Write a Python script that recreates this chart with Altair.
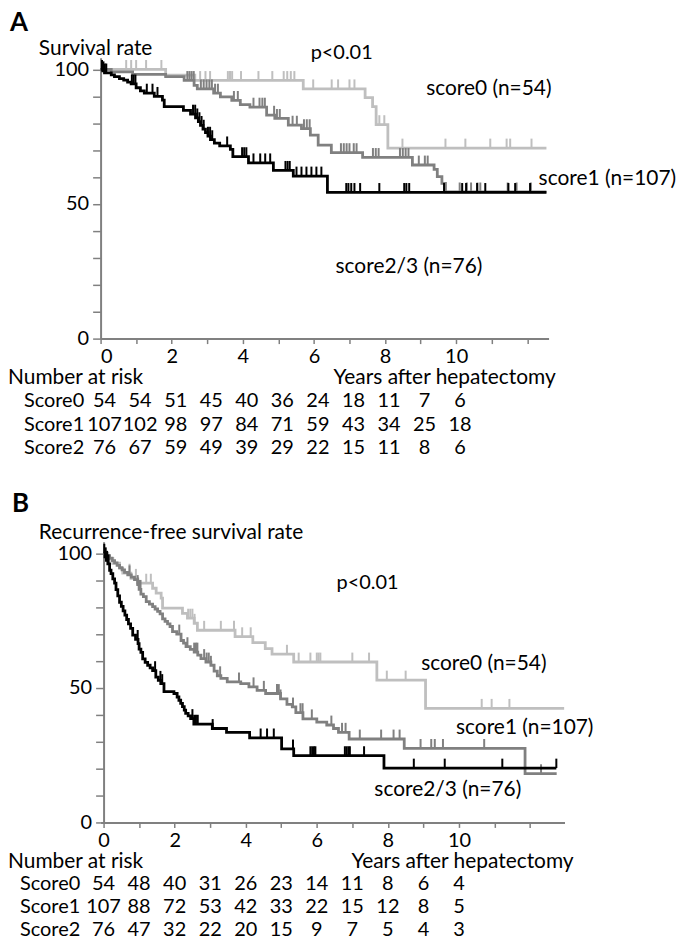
import altair as alt
import pandas as pd

FONT = "Lato"
FS = 20      # numbers
FT = 21      # words
C0, C1, C2 = "#bfbfbf", "#808080", "#000000"
AXC = "#808080"

# ---------------- Panel A: overall survival ----------------
A_s0_t = [0, 1.83, 2.65, 5.70, 7.44, 7.65, 7.75, 8.08]
A_s0_s = [100, 97.9, 95.9, 92.8, 89.5, 86.2, 79.5, 70.8]
A_s0_end = 12.54
A_s0_cens = [0.72, 0.86, 1.0, 1.28, 1.71, 2.8, 2.95, 3.08, 3.58, 3.64, 3.7, 3.95, 4.44,
             4.83, 5.15, 5.25, 5.35, 5.45, 5.98, 6.5, 6.68, 7.0, 7.14, 7.84, 7.98, 8.49,
             9.70, 10.26, 10.96, 11.42, 11.52, 12.12]

A_s1_t = [0, 0.3, 0.9, 1.83, 2.35, 2.63, 2.72, 3.18, 3.37, 3.69, 3.93, 4.2, 4.67, 4.9,
          5.28, 5.65, 5.9, 6.12, 6.49, 7.37, 8.77, 9.38, 9.47, 9.6, 9.7]
A_s1_s = [100, 99.1, 98.2, 97.3, 95.9, 94.1, 92.8, 91.2, 89.8, 88.5, 86.9, 86.0, 83.0, 81.8,
          79.3, 78.0, 75.6, 71.9, 69.1, 67.3, 64.5, 62.9, 60.2, 57.7, 54.5]
A_s1_end = 12.54
A_s1_cens = [2.44, 2.5, 2.56, 2.62, 2.82, 2.9, 2.98, 3.06, 3.13, 3.22, 3.3, 3.75, 3.86, 4.3,
             4.47, 4.55, 4.62, 4.88, 4.96, 5.04, 5.4, 5.52, 5.72, 5.8, 5.88, 6.76, 6.84,
             6.92, 7.0, 7.12, 7.2, 7.66, 7.74, 7.82, 8.42, 8.5, 8.58, 8.66, 8.95, 9.12, 9.2,
             10.1, 10.3, 10.42, 10.6, 10.68, 11.45, 11.7, 12.1]

A_s2_t = [0, 0.06, 0.11, 0.3, 0.39, 0.53, 0.65, 0.76, 0.86, 1.0, 1.12, 1.23, 1.51, 1.74,
          1.79, 2.33, 2.53, 2.67, 2.75, 2.81, 2.88, 2.95, 3.02, 3.09, 3.20, 3.35, 3.65,
          3.72, 4.16, 4.86, 5.42, 6.38]
A_s2_s = [100, 99.5, 98.7, 98.0, 97.3, 96.6, 96.0, 95.3, 94.6, 93.2, 92.0, 91.2, 90.0, 88.6,
          86.2, 84.8, 83.4, 82.0, 80.6, 79.2, 77.8, 76.5, 75.2, 73.9, 72.6, 71.6, 70.3,
          67.6, 65.3, 62.5, 60.4, 54.3]
A_s2_end = 12.54
A_s2_cens = [0.04, 0.08, 0.12, 0.16, 0.88, 0.93, 0.98, 1.30, 1.46, 1.60, 2.6, 2.66, 2.72,
             2.78, 2.84, 2.9, 3.02, 3.08, 3.14, 3.56, 3.98, 4.04, 4.1, 4.3, 4.49, 4.63,
             4.77, 5.2, 5.26, 5.32, 5.51, 5.65, 5.79, 5.93, 6.07, 6.21, 6.91, 6.97, 7.05,
             7.14, 7.30, 7.84, 8.54, 8.6, 8.68, 9.66, 10.17, 10.28, 10.59, 10.82, 11.47,
             11.66, 12.08]

A_years = list(range(0, 11))
A_risk0 = [54, 54, 51, 45, 40, 36, 24, 18, 11, 7, 6]
A_risk1 = [107, 102, 98, 97, 84, 71, 59, 43, 34, 25, 18]
A_risk2 = [76, 67, 59, 49, 39, 29, 22, 15, 11, 8, 6]

# ---------------- Panel B: recurrence-free survival ----------------
B_s0_t = [0, 0.12, 0.26, 0.45, 0.54, 0.77, 0.96, 1.38, 1.48, 1.62, 1.66, 2.22, 2.36, 2.55,
          2.64, 3.7, 4.2, 4.55, 4.74, 5.35, 7.69, 9.06]
B_s0_s = [100, 98.1, 96.3, 94.4, 92.6, 90.7, 88.9, 87.0, 85.2, 83.3, 79.6, 77.7, 75.9, 74.0,
          71.4, 69.0, 66.8, 64.6, 62.5, 59.6, 52.9, 42.4]
B_s0_end = 12.96
B_s0_cens = [0.73, 0.91, 1.2, 1.33, 2.38, 2.44, 2.5, 2.56, 2.83, 3.30, 3.67, 3.9, 4.14,
             5.16, 5.49, 5.82, 6.0, 6.05, 6.1, 7.0, 7.47, 7.97, 8.5, 10.64, 10.92, 11.42]

B_s1_t = [0, 0.08, 0.17, 0.24, 0.31, 0.38, 0.45, 0.52, 0.59, 0.68, 0.78, 0.87, 0.96, 1.0,
          1.05, 1.12, 1.2, 1.29, 1.38, 1.45, 1.52, 1.59, 1.66, 1.73, 1.80, 1.87, 1.94, 2.06,
          2.18, 2.25, 2.32, 2.44, 2.55, 2.65, 2.74, 2.88, 3.02, 3.11, 3.2, 3.3, 3.48, 3.86,
          4.09, 4.32, 4.56, 4.98, 5.16, 5.31, 5.41, 5.61, 6.0, 6.28, 6.47, 6.61, 6.91, 8.46,
          11.86]
B_s1_s = [100, 99.1, 98.2, 97.3, 96.4, 95.5, 94.7, 93.8, 92.9, 92.0, 91.1, 90.2, 88.4, 86.6,
          84.8, 83.9, 82.0, 81.1, 80.2, 79.3, 78.4, 77.5, 75.6, 74.7, 73.8, 72.8, 70.9, 70.0,
          67.6, 66.6, 65.3, 64.3, 63.3, 62.2, 60.9, 59.6, 58.4, 56.2, 54.5, 53.5, 52.2, 51.6,
          50.4, 49.1, 47.9, 45.9, 43.9, 42.9, 40.8, 38.5, 37.3, 36.2, 34.9, 33.5, 31.0, 27.5,
          18.1]
B_s1_end = 12.75
B_s1_cens = [0.73, 0.96, 1.0, 1.04, 2.13, 2.36, 2.55, 2.6, 2.64, 2.83, 2.9, 2.96, 3.02,
             3.28, 3.81, 4.22, 4.51, 4.88, 4.93, 4.98, 5.33, 5.54, 5.6, 5.86, 6.41, 6.71,
             6.81, 7.21, 7.81, 8.16, 8.33, 8.92, 9.22, 9.32, 9.55, 10.71, 12.31]

B_s2_t = [0, 0.04, 0.08, 0.12, 0.17, 0.21, 0.26, 0.31, 0.35, 0.40, 0.45, 0.50, 0.55, 0.60,
          0.65, 0.70, 0.76, 0.82, 0.90, 0.97, 1.00, 1.05, 1.10, 1.17, 1.24, 1.31, 1.38,
          1.47, 1.54, 1.61, 1.70, 1.98, 2.07, 2.12, 2.17, 2.22, 2.27, 2.31, 2.38, 2.45,
          2.54, 3.06, 3.46, 4.11, 5.01, 5.35, 7.89]
B_s2_s = [100, 98.7, 97.4, 96.1, 93.7, 92.4, 90.5, 88.9, 86.5, 84.2, 81.8, 80.3, 78.6, 77.0,
          75.4, 73.8, 72.1, 69.6, 68.0, 66.4, 64.4, 63.2, 60.8, 59.5, 58.4, 57.4, 56.4,
          54.0, 52.8, 51.6, 48.6, 47.9, 46.6, 45.4, 44.2, 43.0, 41.7, 40.5, 39.6, 38.6,
          36.5, 34.9, 33.5, 31.4, 27.3, 24.8, 20.2]
B_s2_end = 12.74
B_s2_cens = [0.02, 0.06, 0.1, 0.14, 0.96, 1.45, 1.6, 1.65, 2.5, 2.55, 2.6, 2.65, 3.07,
             4.42, 4.60, 4.79, 5.33, 5.82, 5.87, 5.92, 5.96, 6.79, 6.84, 6.89, 6.93, 7.33,
             8.73, 9.6, 11.22, 12.74]

B_years = list(range(0, 11))
B_risk0 = [54, 48, 40, 31, 26, 23, 14, 11, 8, 6, 4]
B_risk1 = [107, 88, 72, 53, 42, 33, 22, 15, 12, 8, 5]
B_risk2 = [76, 47, 32, 22, 20, 15, 9, 7, 5, 4, 3]

ROW_NAMES = ["Score0", "Score1", "Score2"]
GROUP_LABELS = ["score0 (n=54)", "score1 (n=107)", "score2/3 (n=76)"]


def make_axes(xdom, yoffset=0):
    X = alt.X("t:Q", scale=alt.Scale(domain=xdom, nice=False, zero=False),
              axis=alt.Axis(values=list(range(0, 13)), title=None, grid=False,
                            labelExpr="datum.value <= 10 && datum.value % 2 == 0 ? datum.label : ''",
                            tickSize=5, labelPadding=3, labelOverlap=False))
    Y = alt.Y("s:Q", scale=alt.Scale(domain=[0, 104.3], nice=False, zero=False),
              axis=alt.Axis(values=list(range(0, 101, 10)), title=None, grid=False,
                            labelExpr="datum.value % 50 == 0 ? datum.label : ''",
                            tickSize=8, labelPadding=4, offset=yoffset, labelOverlap=False))
    return X, Y


def km_layers(t, s, end, cens, color, X, Y, h=3.5):
    line_df = pd.DataFrame({"t": list(t) + [end], "s": list(s) + [s[-1]]})
    cs = [[sv for tt, sv in zip(t, s) if tt <= c][-1] for c in cens]
    cdf = pd.DataFrame({"t": cens, "s": cs, "s2": [v + h for v in cs]})
    line = alt.Chart(line_df).mark_line(interpolate="step-after", color=color,
                                        strokeWidth=2.8).encode(x=X, y=Y)
    ticks = alt.Chart(cdf).mark_rule(color=color, strokeWidth=2).encode(x=X, y=Y, y2="s2:Q")
    return [line, ticks]


def label(text, px, py, size=FT, weight="normal", baseline="middle", align="left"):
    return alt.Chart(pd.DataFrame({"label": [text]})).mark_text(
        font=FONT, fontSize=size, fontWeight=weight, color="black",
        baseline=baseline, align=align).encode(
        x=alt.value(px), y=alt.value(py), text="label:N")


def risk_row(years, counts, py, X, dx):
    df = pd.DataFrame({"t": years, "n": [str(c) for c in counts]})
    return alt.Chart(df).mark_text(font=FONT, fontSize=FS, color="black",
                                   align="center", baseline="middle", dx=dx).encode(
        x=X, y=alt.value(py), text="n:N")


def panel(letter, ytitle, curves, risks, years, xdom, width, yoffset, pos, dx):
    X, Y = make_axes(xdom, yoffset)
    layers = []
    for (t, s, end, cens), col in zip(curves, [C0, C1, C2]):
        layers += km_layers(t, s, end, cens, col, X, Y)
    layers.append(label(letter, pos["letter"][0], pos["letter"][1], size=26,
                        weight="bold", baseline="alphabetic"))
    layers.append(label(ytitle, *pos["ytitle"]))
    layers.append(label("p<0.01", *pos["p"], size=FS))
    for g, key in zip(GROUP_LABELS, ["g0", "g1", "g2"]):
        layers.append(label(g, *pos[key]))
    layers.append(label("Number at risk", *pos["nar"]))
    layers.append(label("Years after hepatectomy", *pos["xtitle"]))
    for name, counts, ry in zip(ROW_NAMES, risks, pos["rows"]):
        layers.append(label(name, pos["rowx"], ry, size=FS))
        layers.append(risk_row(years, counts, ry, X, dx))
    return alt.layer(*layers).properties(width=width, height=282)


posA = {"letter": (-91, -27), "ytitle": (-62, -9), "p": (211, -5),
        "g0": (327, 31), "g1": (440, 122), "g2": (236, 210),
        "nar": (-93, 322), "xtitle": (234, 322), "rowx": -77, "rows": [345, 369, 392]}
posB = {"letter": (-89, -30), "ytitle": (-62, -9), "p": (237, 42),
        "g0": (322, 123), "g1": (357, 187), "g2": (275, 249),
        "nar": (-93, 322), "xtitle": (252, 322), "rowx": -81, "rows": [344, 367, 390]}

chartA = panel("A", "Survival rate",
               [(A_s0_t, A_s0_s, A_s0_end, A_s0_cens),
                (A_s1_t, A_s1_s, A_s1_end, A_s1_cens),
                (A_s2_t, A_s2_s, A_s2_end, A_s2_cens)],
               [A_risk0, A_risk1, A_risk2], A_years, [0, 12.6], 450, 0, posA, 4)

chartB = panel("B", "Recurrence-free survival rate",
               [(B_s0_t, B_s0_s, B_s0_end, B_s0_cens),
                (B_s1_t, B_s1_s, B_s1_end, B_s1_cens),
                (B_s2_t, B_s2_s, B_s2_end, B_s2_cens)],
               [B_risk0, B_risk1, B_risk2], B_years, [-0.084, 12.97], 466, -3, posB, 0)

chart = alt.vconcat(chartA, chartB, spacing=33).properties(padding=0).configure_view(
    stroke=None).configure_axis(
    domainColor=AXC, domainWidth=2, tickColor=AXC, tickWidth=1.5,
    labelFont=FONT, labelFontSize=FS, labelColor="black")

chart.save("out.html", embed_options={"renderer": "svg", "actions": False})
